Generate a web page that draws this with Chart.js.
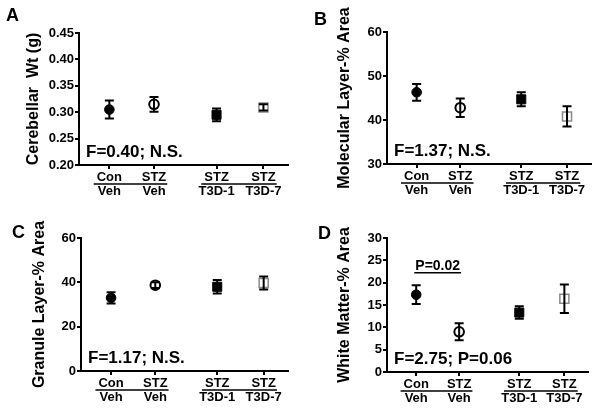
<!DOCTYPE html>
<html>
<head>
<meta charset="utf-8">
<script src="https://cdn.jsdelivr.net/npm/chart.js@4.4.1/dist/chart.umd.min.js"></script>
<style>
  body { margin: 0; background: #fff; }
  #wrap { position: relative; width: 602px; height: 408px; }
  canvas { position: absolute; }
</style>
</head>
<body>
<div id="wrap">
  <canvas id="cA" width="301" height="204" style="left:0;top:0"></canvas>
  <canvas id="cB" width="301" height="204" style="left:301px;top:0"></canvas>
  <canvas id="cC" width="301" height="204" style="left:0;top:204px"></canvas>
  <canvas id="cD" width="301" height="204" style="left:301px;top:204px"></canvas>
</div>
<script>
// Groups (two-line x labels) and their positions on the x axis
const groupTop = ["Con", "STZ", "STZ", "STZ"];
const groupBottom = ["Veh", "Veh", "T3D-1", "T3D-7"];
const groupX = [1, 2, 3.4, 4.45];

// Mean and SEM
const wtMean = [0.305, 0.315, 0.295, 0.309];
const wtSem = [0.017, 0.014, 0.012, 0.006];
const molMean = [46.3, 42.8, 44.7, 40.8];
const molSem = [1.9, 2.1, 1.6, 2.3];
const granMean = [33.0, 38.7, 38.0, 39.7];
const granSem = [2.5, 1.3, 3.0, 2.9];
const wmMean = [17.3, 9.0, 13.3, 16.4];
const wmSem = [2.1, 1.9, 1.4, 3.2];

// Y tick labels
const wtTicks = [0.20, 0.25, 0.30, 0.35, 0.40, 0.45];
const molTicks = [30, 40, 50, 60];
const granTicks = [0, 20, 40, 60];
const wmTicks = [0, 5, 10, 15, 20, 25, 30];

// Stats text
const statLabels = ["F=0.40; N.S.", "F=1.37; N.S.", "F=1.17; N.S.", "F=2.75; P=0.06"];
const pairLabel = "P=0.02";
const pairY = 22.2;

const FONT = '"Liberation Sans", Arial, sans-serif';
Chart.defaults.color = "#000";
Chart.defaults.font.family = FONT;

// marker styles per group
const markStyle = ["circle", "circle", "rect", "rect"];
const markRadius = [4.8, 4.8, 6.4, 6.4];
const markFill = ["#000", "rgba(0,0,0,0)", "#000", "rgba(0,0,0,0)"];
const markEdge = ["#000", "#000", "#000", "#8a8a8a"];
const markEdgeW = [1, 2, 1, 1.5];

function makePanel(p) {
  const ctx = document.getElementById(p.id).getContext("2d");
  const extras = {
    id: "extras" + p.id,
    afterDatasetsDraw(chart) {
      const { ctx, chartArea: area, scales: { x, y } } = chart;
      ctx.save();
      // error bars
      ctx.strokeStyle = "#000";
      ctx.lineWidth = 2;
      p.mean.forEach((m, i) => {
        const px = x.getPixelForValue(groupX[i]);
        const yt = y.getPixelForValue(m + p.sem[i]);
        const yb = y.getPixelForValue(m - p.sem[i]);
        ctx.beginPath();
        ctx.moveTo(px, yt); ctx.lineTo(px, yb);
        ctx.moveTo(px - 4.5, yt); ctx.lineTo(px + 4.5, yt);
        ctx.moveTo(px - 4.5, yb); ctx.lineTo(px + 4.5, yb);
        ctx.stroke();
      });
      // stats text
      ctx.fillStyle = "#000";
      ctx.font = "bold 17px " + FONT;
      ctx.textAlign = "left";
      ctx.textBaseline = "alphabetic";
      ctx.fillText(p.stat, area.left + 7, area.bottom - 8);
      // pairwise comparison
      if (p.pair) {
        const x0 = x.getPixelForValue(groupX[0]);
        const x1 = x.getPixelForValue(groupX[1]);
        const ly = y.getPixelForValue(pairY);
        ctx.font = "bold 14px " + FONT;
        const w = ctx.measureText(p.pair).width;
        ctx.textAlign = "center";
        ctx.fillText(p.pair, (x0 + x1) / 2, ly - 3);
        ctx.lineWidth = 1.5;
        ctx.beginPath();
        ctx.moveTo((x0 + x1) / 2 - w / 2 - 1, ly);
        ctx.lineTo((x0 + x1) / 2 + w / 2 + 1, ly);
        ctx.stroke();
      }
      // underlines separating the two label rows
      ctx.font = "bold 13px " + FONT;
      ctx.lineWidth = 1.5;
      const uy = area.bottom + 19;
      [[0, 1], [2, 3]].forEach(([a, b]) => {
        const xa = x.getPixelForValue(groupX[a]) - ctx.measureText(groupTop[a]).width / 2 - 3;
        const xb = x.getPixelForValue(groupX[b]) + ctx.measureText(groupTop[b]).width / 2 + 1;
        ctx.beginPath();
        ctx.moveTo(xa, uy); ctx.lineTo(xb, uy);
        ctx.stroke();
      });
      // panel letter
      ctx.font = "bold 18px " + FONT;
      ctx.textAlign = "left";
      ctx.fillText(p.letter, p.lx, p.ly);
      ctx.restore();
    }
  };

  return new Chart(ctx, {
    type: "scatter",
    data: {
      datasets: [{
        data: groupX.map((gx, i) => ({ x: gx, y: p.mean[i] })),
        pointStyle: markStyle,
        pointRadius: markRadius,
        pointBackgroundColor: markFill,
        pointBorderColor: markEdge,
        pointBorderWidth: markEdgeW,
        showLine: false
      }]
    },
    options: {
      responsive: false,
      animation: false,
      devicePixelRatio: 1,
      layout: { padding: { left: 0, top: p.top, right: 301 - p.right, bottom: 0 } },
      plugins: { legend: { display: false }, tooltip: { enabled: false } },
      scales: {
        x: {
          type: "linear",
          min: 0.32,
          max: 5.0,
          afterBuildTicks: (s) => { s.ticks = groupX.map(v => ({ value: v })); },
          afterFit: (s) => { s.height = 204 - p.bottom; },
          ticks: {
            font: { size: 13, weight: "bold", lineHeight: 1.04 },
            padding: 2,
            maxRotation: 0,
            autoSkip: false,
            callback: (v, i) => [groupTop[i], groupBottom[i]]
          },
          grid: { drawOnChartArea: false, drawTicks: true, tickLength: 4, color: "#000", lineWidth: 2 },
          border: { display: true, color: "#000", width: 2 }
        },
        y: {
          min: p.ticks[0],
          max: p.ticks[p.ticks.length - 1],
          afterBuildTicks: (s) => { s.ticks = p.ticks.map(v => ({ value: v })); },
          afterFit: (s) => { s.width = p.left; },
          ticks: {
            font: { size: 13, weight: "bold" },
            padding: 1,
            autoSkip: false,
            callback: (v) => v.toFixed(p.decimals)
          },
          grid: { drawOnChartArea: false, drawTicks: true, tickLength: 4, color: "#000", lineWidth: 2 },
          border: { display: true, color: "#000", width: 2 },
          title: {
            display: true,
            text: p.title,
            font: { size: 16, weight: "bold" },
            padding: { top: p.titlePad, bottom: 0 }
          }
        }
      }
    },
    plugins: [extras]
  });
}

makePanel({ id: "cA", letter: "A", lx: 6, ly: 21, left: 79, right: 288, top: 33, bottom: 165,
  titlePad: 24, title: "Cerebellar  Wt (g)", mean: wtMean, sem: wtSem, ticks: wtTicks, decimals: 2,
  stat: statLabels[0] });
makePanel({ id: "cB", letter: "B", lx: 13, ly: 25, left: 86, right: 290, top: 32, bottom: 164,
  titlePad: 34, title: "Molecular Layer-% Area", mean: molMean, sem: molSem, ticks: molTicks, decimals: 0,
  stat: statLabels[1] });
makePanel({ id: "cC", letter: "C", lx: 12, ly: 34, left: 81, right: 288, top: 34, bottom: 167,
  titlePad: 30, title: "Granule Layer-% Area", mean: granMean, sem: granSem, ticks: granTicks, decimals: 0,
  stat: statLabels[2] });
makePanel({ id: "cD", letter: "D", lx: 17, ly: 35, left: 86, right: 287, top: 34, bottom: 168,
  titlePad: 34, title: "White Matter-% Area", mean: wmMean, sem: wmSem, ticks: wmTicks, decimals: 0,
  stat: statLabels[3], pair: pairLabel });
</script>
</body>
</html>
